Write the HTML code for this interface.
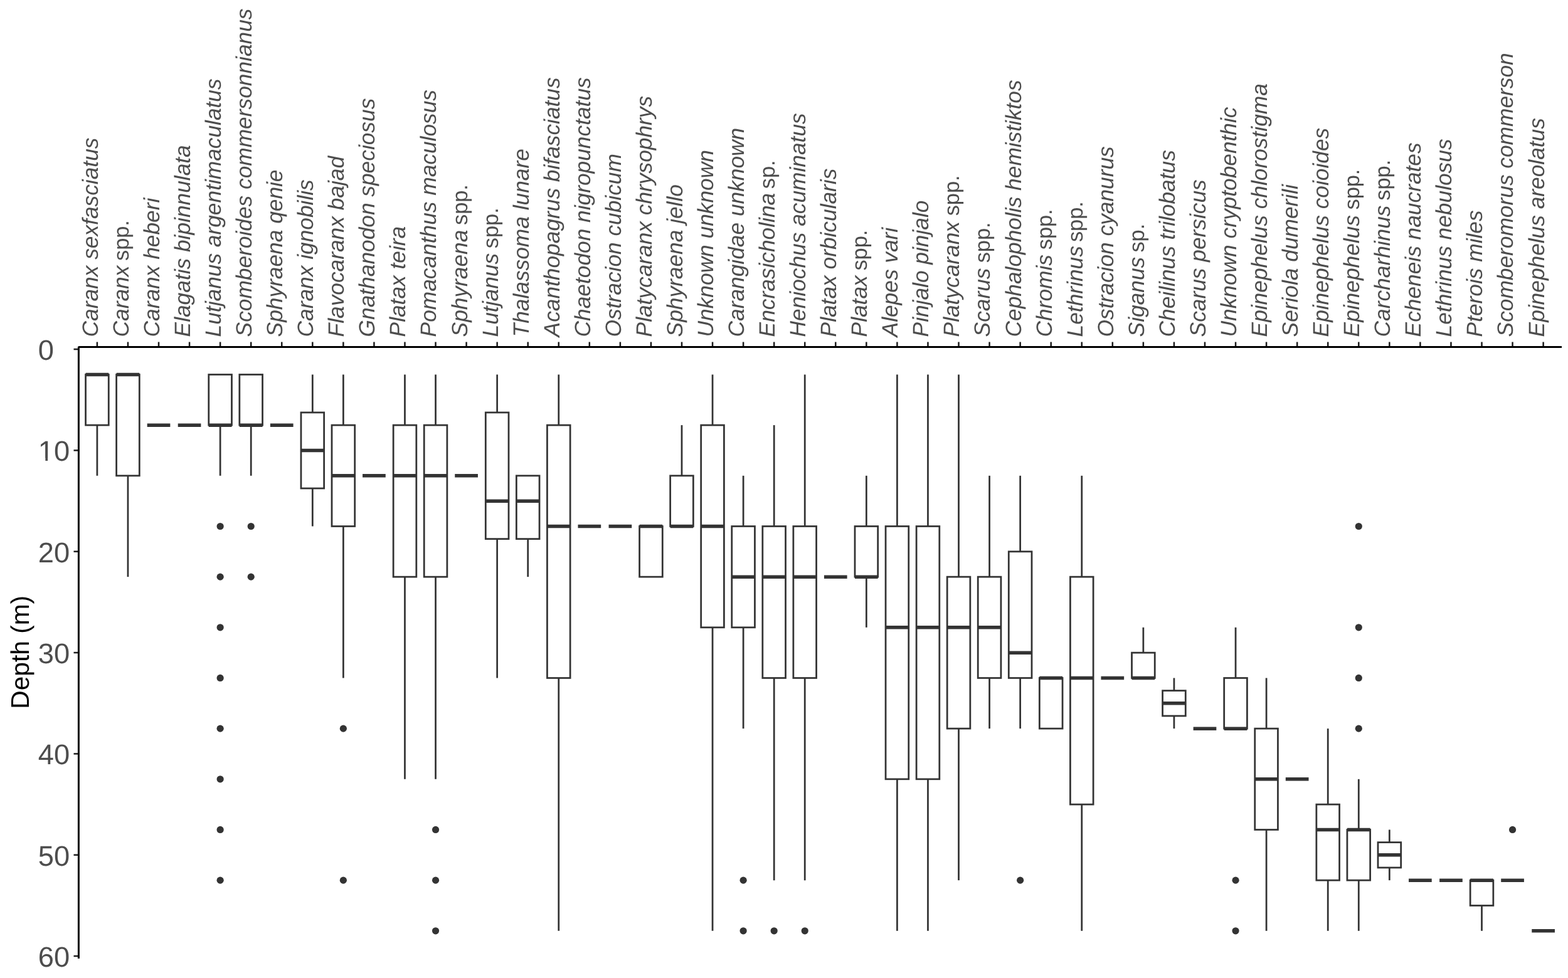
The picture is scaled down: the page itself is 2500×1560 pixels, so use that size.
<!DOCTYPE html>
<html lang="en">
<head>
<meta charset="utf-8">
<title>Depth distribution of fish species</title>
<style>
html,body{margin:0;padding:0;background:#fff;}
body{width:2500px;height:1560px;overflow:hidden;}
svg{display:block;}
text{font-family:"Liberation Sans",Arial,Helvetica,sans-serif;font-kerning:none;font-variant-ligatures:none;text-rendering:geometricPrecision;}
.xl{font-size:35.3px;font-style:italic;fill:#4d4d4d;}
.xl tspan{font-style:normal;font-size:34.3px;}
.yl{font-size:45.3px;fill:#4d4d4d;text-anchor:start;}
.ttl{font-size:40.7px;fill:#000;text-anchor:middle;}
.bx{fill:#fff;stroke:#333;stroke-width:2.75;stroke-linejoin:miter;}
.wh{stroke:#333;stroke-width:2.75;fill:none;}
.md{stroke:#333;stroke-width:5.5;fill:none;}
.pt{fill:#333;}
.tk{stroke:#1c1c1c;stroke-width:2.5;fill:none;}
.ax{stroke:#000;stroke-width:3;fill:none;stroke-linecap:square;}
</style>
</head>
<body>
<svg width="2500" height="1560" viewBox="0 0 2500 1560">
<rect x="0" y="0" width="2500" height="1560" fill="#fff"/>
<g id="boxes">
<g><line class="wh" x1="154.9" y1="678.15" x2="154.9" y2="758.81"/><rect class="bx" x="136.55" y="597.48" width="36.7" height="80.66"/><line class="md" x1="136.55" y1="597.48" x2="173.25" y2="597.48"/></g>
<g><line class="wh" x1="203.96" y1="758.81" x2="203.96" y2="920.14"/><rect class="bx" x="185.61" y="597.48" width="36.7" height="161.33"/><line class="md" x1="185.61" y1="597.48" x2="222.31" y2="597.48"/></g>
<g><line class="md" x1="234.67" y1="678.15" x2="271.37" y2="678.15"/></g>
<g><line class="md" x1="283.72" y1="678.15" x2="320.42" y2="678.15"/></g>
<g><circle class="pt" cx="351.13" cy="839.48" r="5.6"/><circle class="pt" cx="351.13" cy="920.14" r="5.6"/><circle class="pt" cx="351.13" cy="1000.81" r="5.6"/><circle class="pt" cx="351.13" cy="1081.47" r="5.6"/><circle class="pt" cx="351.13" cy="1162.14" r="5.6"/><circle class="pt" cx="351.13" cy="1242.8" r="5.6"/><circle class="pt" cx="351.13" cy="1323.47" r="5.6"/><circle class="pt" cx="351.13" cy="1404.13" r="5.6"/><line class="wh" x1="351.13" y1="678.15" x2="351.13" y2="758.81"/><rect class="bx" x="332.78" y="597.48" width="36.7" height="80.66"/><line class="md" x1="332.78" y1="678.15" x2="369.48" y2="678.15"/></g>
<g><circle class="pt" cx="400.19" cy="839.48" r="5.6"/><circle class="pt" cx="400.19" cy="920.14" r="5.6"/><line class="wh" x1="400.19" y1="678.15" x2="400.19" y2="758.81"/><rect class="bx" x="381.84" y="597.48" width="36.7" height="80.66"/><line class="md" x1="381.84" y1="678.15" x2="418.54" y2="678.15"/></g>
<g><line class="md" x1="430.9" y1="678.15" x2="467.6" y2="678.15"/></g>
<g><line class="wh" x1="498.31" y1="597.48" x2="498.31" y2="657.98"/><line class="wh" x1="498.31" y1="778.98" x2="498.31" y2="839.48"/><rect class="bx" x="479.96" y="657.98" width="36.7" height="121"/><line class="md" x1="479.96" y1="718.48" x2="516.66" y2="718.48"/></g>
<g><circle class="pt" cx="547.36" cy="1162.14" r="5.6"/><circle class="pt" cx="547.36" cy="1404.13" r="5.6"/><line class="wh" x1="547.36" y1="597.48" x2="547.36" y2="678.15"/><line class="wh" x1="547.36" y1="839.48" x2="547.36" y2="1081.47"/><rect class="bx" x="529.01" y="678.15" width="36.7" height="161.33"/><line class="md" x1="529.01" y1="758.81" x2="565.71" y2="758.81"/></g>
<g><line class="md" x1="578.07" y1="758.81" x2="614.77" y2="758.81"/></g>
<g><line class="wh" x1="645.48" y1="597.48" x2="645.48" y2="678.15"/><line class="wh" x1="645.48" y1="920.14" x2="645.48" y2="1242.8"/><rect class="bx" x="627.13" y="678.15" width="36.7" height="242"/><line class="md" x1="627.13" y1="758.81" x2="663.83" y2="758.81"/></g>
<g><circle class="pt" cx="694.54" cy="1323.47" r="5.6"/><circle class="pt" cx="694.54" cy="1404.13" r="5.6"/><circle class="pt" cx="694.54" cy="1484.8" r="5.6"/><line class="wh" x1="694.54" y1="597.48" x2="694.54" y2="678.15"/><line class="wh" x1="694.54" y1="920.14" x2="694.54" y2="1242.8"/><rect class="bx" x="676.19" y="678.15" width="36.7" height="242"/><line class="md" x1="676.19" y1="758.81" x2="712.89" y2="758.81"/></g>
<g><line class="md" x1="725.25" y1="758.81" x2="761.95" y2="758.81"/></g>
<g><line class="wh" x1="792.65" y1="597.48" x2="792.65" y2="657.98"/><line class="wh" x1="792.65" y1="859.64" x2="792.65" y2="1081.47"/><rect class="bx" x="774.3" y="657.98" width="36.7" height="201.66"/><line class="md" x1="774.3" y1="799.14" x2="811" y2="799.14"/></g>
<g><line class="wh" x1="841.71" y1="859.64" x2="841.71" y2="920.14"/><rect class="bx" x="823.36" y="758.81" width="36.7" height="100.83"/><line class="md" x1="823.36" y1="799.14" x2="860.06" y2="799.14"/></g>
<g><line class="wh" x1="890.77" y1="597.48" x2="890.77" y2="678.15"/><line class="wh" x1="890.77" y1="1081.47" x2="890.77" y2="1484.8"/><rect class="bx" x="872.42" y="678.15" width="36.7" height="403.32"/><line class="md" x1="872.42" y1="839.48" x2="909.12" y2="839.48"/></g>
<g><line class="md" x1="921.48" y1="839.48" x2="958.18" y2="839.48"/></g>
<g><line class="md" x1="970.54" y1="839.48" x2="1007.24" y2="839.48"/></g>
<g><rect class="bx" x="1019.59" y="839.48" width="36.7" height="80.66"/><line class="md" x1="1019.59" y1="839.48" x2="1056.29" y2="839.48"/></g>
<g><line class="wh" x1="1087" y1="678.15" x2="1087" y2="758.81"/><rect class="bx" x="1068.65" y="758.81" width="36.7" height="80.66"/><line class="md" x1="1068.65" y1="839.48" x2="1105.35" y2="839.48"/></g>
<g><line class="wh" x1="1136.06" y1="597.48" x2="1136.06" y2="678.15"/><line class="wh" x1="1136.06" y1="1000.81" x2="1136.06" y2="1484.8"/><rect class="bx" x="1117.71" y="678.15" width="36.7" height="322.66"/><line class="md" x1="1117.71" y1="839.48" x2="1154.41" y2="839.48"/></g>
<g><circle class="pt" cx="1185.12" cy="1404.13" r="5.6"/><circle class="pt" cx="1185.12" cy="1484.8" r="5.6"/><line class="wh" x1="1185.12" y1="758.81" x2="1185.12" y2="839.48"/><line class="wh" x1="1185.12" y1="1000.81" x2="1185.12" y2="1162.14"/><rect class="bx" x="1166.77" y="839.48" width="36.7" height="161.33"/><line class="md" x1="1166.77" y1="920.14" x2="1203.47" y2="920.14"/></g>
<g><circle class="pt" cx="1234.18" cy="1484.8" r="5.6"/><line class="wh" x1="1234.18" y1="678.15" x2="1234.18" y2="839.48"/><line class="wh" x1="1234.18" y1="1081.47" x2="1234.18" y2="1404.13"/><rect class="bx" x="1215.83" y="839.48" width="36.7" height="241.99"/><line class="md" x1="1215.83" y1="920.14" x2="1252.53" y2="920.14"/></g>
<g><circle class="pt" cx="1283.23" cy="1484.8" r="5.6"/><line class="wh" x1="1283.23" y1="597.48" x2="1283.23" y2="839.48"/><line class="wh" x1="1283.23" y1="1081.47" x2="1283.23" y2="1404.13"/><rect class="bx" x="1264.88" y="839.48" width="36.7" height="241.99"/><line class="md" x1="1264.88" y1="920.14" x2="1301.58" y2="920.14"/></g>
<g><line class="md" x1="1313.94" y1="920.14" x2="1350.64" y2="920.14"/></g>
<g><line class="wh" x1="1381.35" y1="758.81" x2="1381.35" y2="839.48"/><line class="wh" x1="1381.35" y1="920.14" x2="1381.35" y2="1000.81"/><rect class="bx" x="1363" y="839.48" width="36.7" height="80.66"/><line class="md" x1="1363" y1="920.14" x2="1399.7" y2="920.14"/></g>
<g><line class="wh" x1="1430.41" y1="597.48" x2="1430.41" y2="839.48"/><line class="wh" x1="1430.41" y1="1242.8" x2="1430.41" y2="1484.8"/><rect class="bx" x="1412.06" y="839.48" width="36.7" height="403.32"/><line class="md" x1="1412.06" y1="1000.81" x2="1448.76" y2="1000.81"/></g>
<g><line class="wh" x1="1479.47" y1="597.48" x2="1479.47" y2="839.48"/><line class="wh" x1="1479.47" y1="1242.8" x2="1479.47" y2="1484.8"/><rect class="bx" x="1461.12" y="839.48" width="36.7" height="403.32"/><line class="md" x1="1461.12" y1="1000.81" x2="1497.82" y2="1000.81"/></g>
<g><line class="wh" x1="1528.52" y1="597.48" x2="1528.52" y2="920.14"/><line class="wh" x1="1528.52" y1="1162.14" x2="1528.52" y2="1404.13"/><rect class="bx" x="1510.17" y="920.14" width="36.7" height="241.99"/><line class="md" x1="1510.17" y1="1000.81" x2="1546.87" y2="1000.81"/></g>
<g><line class="wh" x1="1577.58" y1="758.81" x2="1577.58" y2="920.14"/><line class="wh" x1="1577.58" y1="1081.47" x2="1577.58" y2="1162.14"/><rect class="bx" x="1559.23" y="920.14" width="36.7" height="161.33"/><line class="md" x1="1559.23" y1="1000.81" x2="1595.93" y2="1000.81"/></g>
<g><circle class="pt" cx="1626.64" cy="1404.13" r="5.6"/><line class="wh" x1="1626.64" y1="758.81" x2="1626.64" y2="879.81"/><line class="wh" x1="1626.64" y1="1081.47" x2="1626.64" y2="1162.14"/><rect class="bx" x="1608.29" y="879.81" width="36.7" height="201.66"/><line class="md" x1="1608.29" y1="1041.14" x2="1644.99" y2="1041.14"/></g>
<g><rect class="bx" x="1657.35" y="1081.47" width="36.7" height="80.66"/><line class="md" x1="1657.35" y1="1081.47" x2="1694.05" y2="1081.47"/></g>
<g><line class="wh" x1="1724.76" y1="758.81" x2="1724.76" y2="920.14"/><line class="wh" x1="1724.76" y1="1283.13" x2="1724.76" y2="1484.8"/><rect class="bx" x="1706.41" y="920.14" width="36.7" height="362.99"/><line class="md" x1="1706.41" y1="1081.47" x2="1743.11" y2="1081.47"/></g>
<g><line class="md" x1="1755.46" y1="1081.47" x2="1792.16" y2="1081.47"/></g>
<g><line class="wh" x1="1822.87" y1="1000.81" x2="1822.87" y2="1041.14"/><rect class="bx" x="1804.52" y="1041.14" width="36.7" height="40.33"/><line class="md" x1="1804.52" y1="1081.47" x2="1841.22" y2="1081.47"/></g>
<g><line class="wh" x1="1871.93" y1="1081.47" x2="1871.93" y2="1101.64"/><line class="wh" x1="1871.93" y1="1141.97" x2="1871.93" y2="1162.14"/><rect class="bx" x="1853.58" y="1101.64" width="36.7" height="40.33"/><line class="md" x1="1853.58" y1="1121.8" x2="1890.28" y2="1121.8"/></g>
<g><line class="md" x1="1902.64" y1="1162.14" x2="1939.34" y2="1162.14"/></g>
<g><circle class="pt" cx="1970.05" cy="1404.13" r="5.6"/><circle class="pt" cx="1970.05" cy="1484.8" r="5.6"/><line class="wh" x1="1970.05" y1="1000.81" x2="1970.05" y2="1081.47"/><rect class="bx" x="1951.7" y="1081.47" width="36.7" height="80.66"/><line class="md" x1="1951.7" y1="1162.14" x2="1988.4" y2="1162.14"/></g>
<g><line class="wh" x1="2019.1" y1="1081.47" x2="2019.1" y2="1162.14"/><line class="wh" x1="2019.1" y1="1323.47" x2="2019.1" y2="1484.8"/><rect class="bx" x="2000.75" y="1162.14" width="36.7" height="161.33"/><line class="md" x1="2000.75" y1="1242.8" x2="2037.45" y2="1242.8"/></g>
<g><line class="md" x1="2049.81" y1="1242.8" x2="2086.51" y2="1242.8"/></g>
<g><line class="wh" x1="2117.22" y1="1162.14" x2="2117.22" y2="1283.13"/><line class="wh" x1="2117.22" y1="1404.13" x2="2117.22" y2="1484.8"/><rect class="bx" x="2098.87" y="1283.13" width="36.7" height="121"/><line class="md" x1="2098.87" y1="1323.47" x2="2135.57" y2="1323.47"/></g>
<g><circle class="pt" cx="2166.28" cy="839.48" r="5.6"/><circle class="pt" cx="2166.28" cy="1000.81" r="5.6"/><circle class="pt" cx="2166.28" cy="1081.47" r="5.6"/><circle class="pt" cx="2166.28" cy="1162.14" r="5.6"/><line class="wh" x1="2166.28" y1="1242.8" x2="2166.28" y2="1323.47"/><line class="wh" x1="2166.28" y1="1404.13" x2="2166.28" y2="1484.8"/><rect class="bx" x="2147.93" y="1323.47" width="36.7" height="80.66"/><line class="md" x1="2147.93" y1="1323.47" x2="2184.63" y2="1323.47"/></g>
<g><line class="wh" x1="2215.34" y1="1323.47" x2="2215.34" y2="1343.63"/><line class="wh" x1="2215.34" y1="1383.97" x2="2215.34" y2="1404.13"/><rect class="bx" x="2196.99" y="1343.63" width="36.7" height="40.33"/><line class="md" x1="2196.99" y1="1363.8" x2="2233.69" y2="1363.8"/></g>
<g><line class="md" x1="2246.04" y1="1404.13" x2="2282.74" y2="1404.13"/></g>
<g><line class="md" x1="2295.1" y1="1404.13" x2="2331.8" y2="1404.13"/></g>
<g><line class="wh" x1="2362.51" y1="1444.46" x2="2362.51" y2="1484.8"/><rect class="bx" x="2344.16" y="1404.13" width="36.7" height="40.33"/><line class="md" x1="2344.16" y1="1404.13" x2="2380.86" y2="1404.13"/></g>
<g><circle class="pt" cx="2411.57" cy="1323.47" r="5.6"/><line class="md" x1="2393.22" y1="1404.13" x2="2429.92" y2="1404.13"/></g>
<g><line class="md" x1="2442.28" y1="1484.8" x2="2478.98" y2="1484.8"/></g>
</g>
<g id="axes">
<line class="tk" x1="154.9" y1="545.5" x2="154.9" y2="553.4"/><line class="tk" x1="203.96" y1="545.5" x2="203.96" y2="553.4"/><line class="tk" x1="253.02" y1="545.5" x2="253.02" y2="553.4"/><line class="tk" x1="302.07" y1="545.5" x2="302.07" y2="553.4"/><line class="tk" x1="351.13" y1="545.5" x2="351.13" y2="553.4"/><line class="tk" x1="400.19" y1="545.5" x2="400.19" y2="553.4"/><line class="tk" x1="449.25" y1="545.5" x2="449.25" y2="553.4"/><line class="tk" x1="498.31" y1="545.5" x2="498.31" y2="553.4"/><line class="tk" x1="547.36" y1="545.5" x2="547.36" y2="553.4"/><line class="tk" x1="596.42" y1="545.5" x2="596.42" y2="553.4"/><line class="tk" x1="645.48" y1="545.5" x2="645.48" y2="553.4"/><line class="tk" x1="694.54" y1="545.5" x2="694.54" y2="553.4"/><line class="tk" x1="743.6" y1="545.5" x2="743.6" y2="553.4"/><line class="tk" x1="792.65" y1="545.5" x2="792.65" y2="553.4"/><line class="tk" x1="841.71" y1="545.5" x2="841.71" y2="553.4"/><line class="tk" x1="890.77" y1="545.5" x2="890.77" y2="553.4"/><line class="tk" x1="939.83" y1="545.5" x2="939.83" y2="553.4"/><line class="tk" x1="988.89" y1="545.5" x2="988.89" y2="553.4"/><line class="tk" x1="1037.94" y1="545.5" x2="1037.94" y2="553.4"/><line class="tk" x1="1087" y1="545.5" x2="1087" y2="553.4"/><line class="tk" x1="1136.06" y1="545.5" x2="1136.06" y2="553.4"/><line class="tk" x1="1185.12" y1="545.5" x2="1185.12" y2="553.4"/><line class="tk" x1="1234.18" y1="545.5" x2="1234.18" y2="553.4"/><line class="tk" x1="1283.23" y1="545.5" x2="1283.23" y2="553.4"/><line class="tk" x1="1332.29" y1="545.5" x2="1332.29" y2="553.4"/><line class="tk" x1="1381.35" y1="545.5" x2="1381.35" y2="553.4"/><line class="tk" x1="1430.41" y1="545.5" x2="1430.41" y2="553.4"/><line class="tk" x1="1479.47" y1="545.5" x2="1479.47" y2="553.4"/><line class="tk" x1="1528.52" y1="545.5" x2="1528.52" y2="553.4"/><line class="tk" x1="1577.58" y1="545.5" x2="1577.58" y2="553.4"/><line class="tk" x1="1626.64" y1="545.5" x2="1626.64" y2="553.4"/><line class="tk" x1="1675.7" y1="545.5" x2="1675.7" y2="553.4"/><line class="tk" x1="1724.76" y1="545.5" x2="1724.76" y2="553.4"/><line class="tk" x1="1773.81" y1="545.5" x2="1773.81" y2="553.4"/><line class="tk" x1="1822.87" y1="545.5" x2="1822.87" y2="553.4"/><line class="tk" x1="1871.93" y1="545.5" x2="1871.93" y2="553.4"/><line class="tk" x1="1920.99" y1="545.5" x2="1920.99" y2="553.4"/><line class="tk" x1="1970.05" y1="545.5" x2="1970.05" y2="553.4"/><line class="tk" x1="2019.1" y1="545.5" x2="2019.1" y2="553.4"/><line class="tk" x1="2068.16" y1="545.5" x2="2068.16" y2="553.4"/><line class="tk" x1="2117.22" y1="545.5" x2="2117.22" y2="553.4"/><line class="tk" x1="2166.28" y1="545.5" x2="2166.28" y2="553.4"/><line class="tk" x1="2215.34" y1="545.5" x2="2215.34" y2="553.4"/><line class="tk" x1="2264.39" y1="545.5" x2="2264.39" y2="553.4"/><line class="tk" x1="2313.45" y1="545.5" x2="2313.45" y2="553.4"/><line class="tk" x1="2362.51" y1="545.5" x2="2362.51" y2="553.4"/><line class="tk" x1="2411.57" y1="545.5" x2="2411.57" y2="553.4"/><line class="tk" x1="2460.63" y1="545.5" x2="2460.63" y2="553.4"/>
<line class="tk" x1="117.5" y1="557.05" x2="125.4" y2="557.05"/><line class="tk" x1="117.5" y1="718.38" x2="125.4" y2="718.38"/><line class="tk" x1="117.5" y1="879.71" x2="125.4" y2="879.71"/><line class="tk" x1="117.5" y1="1041.04" x2="125.4" y2="1041.04"/><line class="tk" x1="117.5" y1="1202.37" x2="125.4" y2="1202.37"/><line class="tk" x1="117.5" y1="1363.7" x2="125.4" y2="1363.7"/><line class="tk" x1="117.5" y1="1525.03" x2="125.4" y2="1525.03"/>
<line class="ax" style="stroke-linecap:butt" x1="125" y1="553.4" x2="2490" y2="553.4"/>
<line class="ax" style="stroke-linecap:butt" x1="125.4" y1="553" x2="125.4" y2="1529"/>
</g>
<g id="xlabels">
<text class="xl" transform="translate(155.8 537.4) rotate(-90)">Caranx sexfasciatus</text>
<text class="xl" transform="translate(204.86 537.4) rotate(-90)">Caranx <tspan dx="-2.2">spp.</tspan></text>
<text class="xl" transform="translate(253.92 537.4) rotate(-90)">Caranx heberi</text>
<text class="xl" transform="translate(302.97 537.4) rotate(-90)">Elagatis bipinnulata</text>
<text class="xl" transform="translate(352.03 537.4) rotate(-90)">Lutjanus argentimaculatus</text>
<text class="xl" transform="translate(401.09 537.4) rotate(-90)">Scomberoides commersonnianus</text>
<text class="xl" transform="translate(450.15 537.4) rotate(-90)">Sphyraena qenie</text>
<text class="xl" transform="translate(499.21 537.4) rotate(-90)">Caranx ignobilis</text>
<text class="xl" transform="translate(548.26 537.4) rotate(-90)">Flavocaranx bajad</text>
<text class="xl" transform="translate(597.32 537.4) rotate(-90)">Gnathanodon speciosus</text>
<text class="xl" transform="translate(646.38 537.4) rotate(-90)">Platax teira</text>
<text class="xl" transform="translate(695.44 537.4) rotate(-90)">Pomacanthus maculosus</text>
<text class="xl" transform="translate(744.5 537.4) rotate(-90)">Sphyraena <tspan dx="-2.15">spp.</tspan></text>
<text class="xl" transform="translate(793.55 537.4) rotate(-90)">Lutjanus <tspan dx="-2">spp.</tspan></text>
<text class="xl" transform="translate(842.61 537.4) rotate(-90)">Thalassoma lunare</text>
<text class="xl" transform="translate(891.67 537.4) rotate(-90)">Acanthopagrus bifasciatus</text>
<text class="xl" transform="translate(940.73 537.4) rotate(-90)">Chaetodon nigropunctatus</text>
<text class="xl" transform="translate(989.79 537.4) rotate(-90)">Ostracion cubicum</text>
<text class="xl" transform="translate(1038.84 537.4) rotate(-90)">Platycaranx chrysophrys</text>
<text class="xl" transform="translate(1087.9 537.4) rotate(-90)">Sphyraena jello</text>
<text class="xl" transform="translate(1136.96 537.4) rotate(-90)">Unknown unknown</text>
<text class="xl" transform="translate(1186.02 537.4) rotate(-90)">Carangidae unknown</text>
<text class="xl" transform="translate(1235.08 537.4) rotate(-90)">Encrasicholina <tspan dx="-3.2">sp.</tspan></text>
<text class="xl" transform="translate(1284.13 537.4) rotate(-90)">Heniochus acuminatus</text>
<text class="xl" transform="translate(1333.19 537.4) rotate(-90)">Platax orbicularis</text>
<text class="xl" transform="translate(1382.25 537.4) rotate(-90)">Platax <tspan dx="-2.05">spp.</tspan></text>
<text class="xl" transform="translate(1431.31 537.4) rotate(-90)">Alepes vari</text>
<text class="xl" transform="translate(1480.37 537.4) rotate(-90)">Pinjalo pinjalo</text>
<text class="xl" transform="translate(1529.42 537.4) rotate(-90)">Platycaranx <tspan dx="-1.1">spp.</tspan></text>
<text class="xl" transform="translate(1578.48 537.4) rotate(-90)">Scarus <tspan dx="-1.55">spp.</tspan></text>
<text class="xl" transform="translate(1627.54 537.4) rotate(-90)">Cephalopholis hemistiktos</text>
<text class="xl" transform="translate(1676.6 537.4) rotate(-90)">Chromis <tspan dx="-2">spp.</tspan></text>
<text class="xl" transform="translate(1725.66 537.4) rotate(-90)">Lethrinus <tspan dx="-3.7">spp.</tspan></text>
<text class="xl" transform="translate(1774.71 537.4) rotate(-90)">Ostracion cyanurus</text>
<text class="xl" transform="translate(1823.77 537.4) rotate(-90)">Siganus <tspan dx="-2.5">sp.</tspan></text>
<text class="xl" transform="translate(1872.83 537.4) rotate(-90)">Cheilinus trilobatus</text>
<text class="xl" transform="translate(1921.89 537.4) rotate(-90)">Scarus persicus</text>
<text class="xl" transform="translate(1970.95 537.4) rotate(-90)">Unknown cryptobenthic</text>
<text class="xl" transform="translate(2020 537.4) rotate(-90)">Epinephelus chlorostigma</text>
<text class="xl" transform="translate(2069.06 537.4) rotate(-90)">Seriola dumerili</text>
<text class="xl" transform="translate(2118.12 537.4) rotate(-90)">Epinephelus coioides</text>
<text class="xl" transform="translate(2167.18 537.4) rotate(-90)">Epinephelus <tspan dx="-1.2">spp.</tspan></text>
<text class="xl" transform="translate(2216.24 537.4) rotate(-90)">Carcharhinus <tspan dx="-2">spp.</tspan></text>
<text class="xl" transform="translate(2265.29 537.4) rotate(-90)">Echeneis naucrates</text>
<text class="xl" transform="translate(2314.35 537.4) rotate(-90)">Lethrinus nebulosus</text>
<text class="xl" transform="translate(2363.41 537.4) rotate(-90)">Pterois miles</text>
<text class="xl" transform="translate(2412.47 537.4) rotate(-90)">Scomberomorus commerson</text>
<text class="xl" transform="translate(2461.53 537.4) rotate(-90)">Epinephelus areolatus</text>
</g>
<g id="ylabels">
<text class="yl" x="60.8" y="574.15">0</text>
<text class="yl" x="60.8" y="735.48">10</text>
<text class="yl" x="60.8" y="896.81">20</text>
<text class="yl" x="60.8" y="1058.14">30</text>
<text class="yl" x="60.8" y="1219.47">40</text>
<text class="yl" x="60.8" y="1380.8">50</text>
<text class="yl" x="60.8" y="1542.13">60</text>
<rect x="62.8" y="730.68" width="9.55" height="6" fill="#fff"/><rect x="76.1" y="730.68" width="9.5" height="6" fill="#fff"/>
</g>
<text class="ttl" transform="translate(46 1040.3) rotate(-90)">Depth (m)</text>
</svg>
</body>
</html>
